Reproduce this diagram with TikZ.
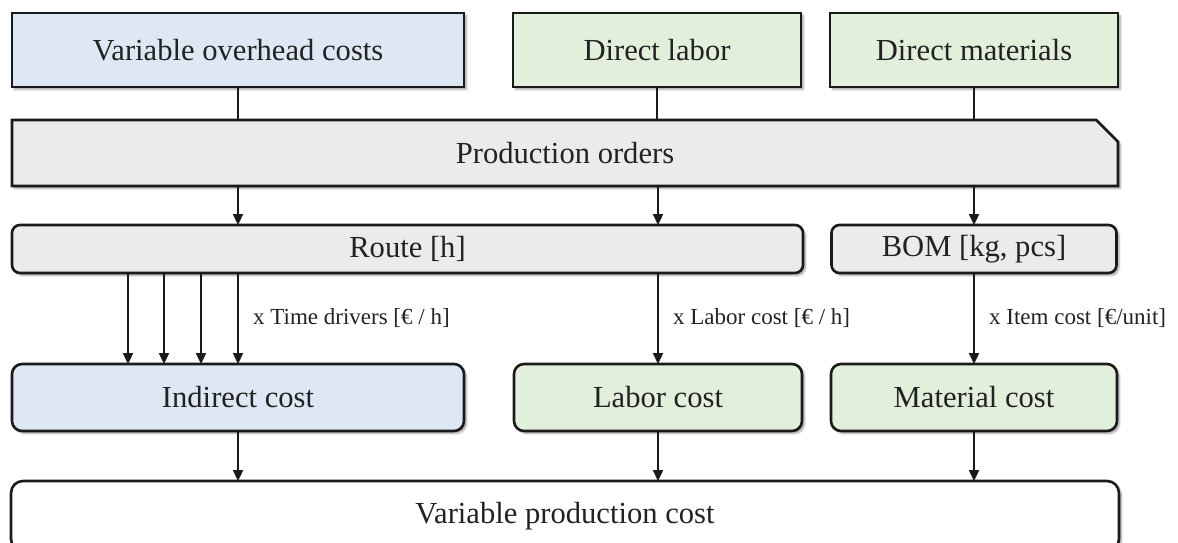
\documentclass[tikz,border=0pt]{standalone}
\usepackage{fontspec}
\setmainfont{Liberation Serif}
\usetikzlibrary{arrows.meta,shapes.misc,shadows.blur}
\definecolor{linec}{HTML}{1A1A1A}
\definecolor{bluef}{HTML}{DDE8F4}
\definecolor{greenf}{HTML}{E2EFDA}
\definecolor{grayf}{HTML}{EBEBEB}
\definecolor{textc}{HTML}{222222}
\tikzset{
  box/.style={draw=linec, line width=2.6pt, inner sep=0pt, outer sep=0pt,
    text=textc, font=\fontsize{30.6}{36}\selectfont,
    blur shadow={shadow xshift=2.5pt, shadow yshift=-2.5pt,
      shadow blur steps=6, shadow opacity=35}},
  bluebox/.style={box, fill=bluef},
  greenbox/.style={box, fill=greenf},
  graybox/.style={box, fill=grayf},
  link/.style={draw=linec, line width=2.3pt},
  arr/.style={link, -{Triangle[width=10pt,length=11pt]}},
  lbl/.style={font=\fontsize{23}{27}\selectfont, text=textc, inner sep=0pt, anchor=west, xshift=14pt}
}
\begin{document}
\begin{tikzpicture}[x=1pt,y=-1pt]
\useasboundingbox (0,0) rectangle (1178,543);

% cost sources
\node[bluebox, minimum width=452pt, minimum height=74pt] (voc) at (238,50) {Variable overhead costs};
\node[greenbox, minimum width=288pt, minimum height=74pt] (dl) at (657,50) {Direct labor};
\node[greenbox, minimum width=288pt, minimum height=74pt] (dm) at (974,50) {Direct materials};

% production orders
\node[graybox, chamfered rectangle, chamfered rectangle corners=north east,
  chamfered rectangle xsep=11pt, chamfered rectangle ysep=11pt,
  minimum width=1106pt, minimum height=66pt] (po) at (565,153) {Production orders};

% routing and bill of materials
\node[graybox, rounded corners=8pt, minimum width=791pt, minimum height=48pt] (route) at (407.5,249) {Route [h]};
\node[graybox, rounded corners=8pt, minimum width=285pt, minimum height=48pt] (bom) at (974,249) {BOM [kg, pcs]};

% cost results
\node[bluebox, rounded corners=10pt, minimum width=452pt, minimum height=67pt] (ind) at (238,397.5) {Indirect cost};
\node[greenbox, rounded corners=10pt, minimum width=288pt, minimum height=67pt] (lab) at (658,397.5) {Labor cost};
\node[greenbox, rounded corners=10pt, minimum width=286pt, minimum height=67pt] (mat) at (974,397.5) {Material cost};

% total
\node[box, fill=white, rounded corners=12pt, minimum width=1108pt, minimum height=70pt] (vpc) at (565,516) {Variable production cost};

% time driver columns
\coordinate (t1) at (128,0);
\coordinate (t2) at (164,0);
\coordinate (t3) at (201,0);

% sources into production orders
\draw[link] (voc.south) -- (voc.south |- po.north);
\draw[link] (dl.south) -- (dl.south |- po.north);
\draw[link] (dm.south) -- (dm.south |- po.north);

% production orders into route and BOM
\draw[arr] (po.south -| voc.south) -- (route.north -| voc.south);
\draw[arr] (po.south -| lab.north) -- (route.north -| lab.north);
\draw[arr] (po.south -| bom.north) -- (bom.north);

% route and BOM into costs
\draw[arr] (route.south -| t1) -- (ind.north -| t1);
\draw[arr] (route.south -| t2) -- (ind.north -| t2);
\draw[arr] (route.south -| t3) -- (ind.north -| t3);
\draw[arr] (route.south -| ind.north) -- node[lbl] {x Time drivers [€ / h]} (ind.north);
\draw[arr] (route.south -| lab.north) -- node[lbl] {x Labor cost [€ / h]} (lab.north);
\draw[arr] (bom.south) -- node[lbl] {x Item cost [€/unit]} (mat.north);

% costs into total
\draw[arr] (ind.south) -- (vpc.north -| ind.south);
\draw[arr] (lab.south) -- (vpc.north -| lab.south);
\draw[arr] (mat.south) -- (vpc.north -| mat.south);
\end{tikzpicture}
\end{document}
